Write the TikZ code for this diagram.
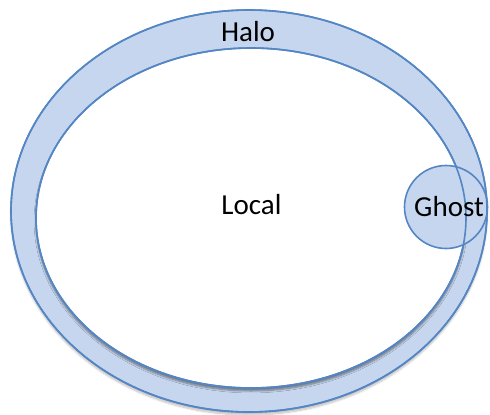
\documentclass[tikz,border=0pt]{standalone}
\usepackage{fontspec}
\setmainfont{Carlito}
\usetikzlibrary{shadows.blur}
\definecolor{ringfill}{RGB}{198,214,238}
\definecolor{ringline}{RGB}{84,134,196}
\begin{document}
\begin{tikzpicture}[x=1pt,y=-1pt,
  ringstroke/.style={draw=ringline,line width=1.6pt},
  lbl/.style={anchor=base,font=\fontsize{29}{34}\selectfont,inner sep=0pt}]
\useasboundingbox (0,0) rectangle (490,415);
% halo ring: outer and inner ellipses
\path[fill=ringfill,ringstroke,blur shadow={shadow xshift=0pt,shadow yshift=-3pt,shadow blur steps=6,shadow opacity=25}]
  (249,211) ellipse [x radius=238,y radius=201];
\path[fill=white,ringstroke,blur shadow={shadow xshift=0pt,shadow yshift=-3pt,shadow blur steps=6,shadow opacity=45}]
  (251,218) ellipse [x radius=215,y radius=170];
% ghost cell fill, then ellipse outlines redrawn through it
\fill[ringfill] (446,207) circle [radius=41.5];
\draw[ringstroke] (249,211) ellipse [x radius=238,y radius=201];
\draw[ringstroke] (251,218) ellipse [x radius=215,y radius=170];
\node[circle,ringstroke,minimum size=83pt,inner sep=0pt] (ghost) at (446,207) {};
% labels
\node[lbl] (halo) at (248,41) {Halo};
\node[lbl] (local) at (251.5,214) {Local};
\node[lbl] (ghosttext) at (449,216) {Ghost};
\end{tikzpicture}
\end{document}
